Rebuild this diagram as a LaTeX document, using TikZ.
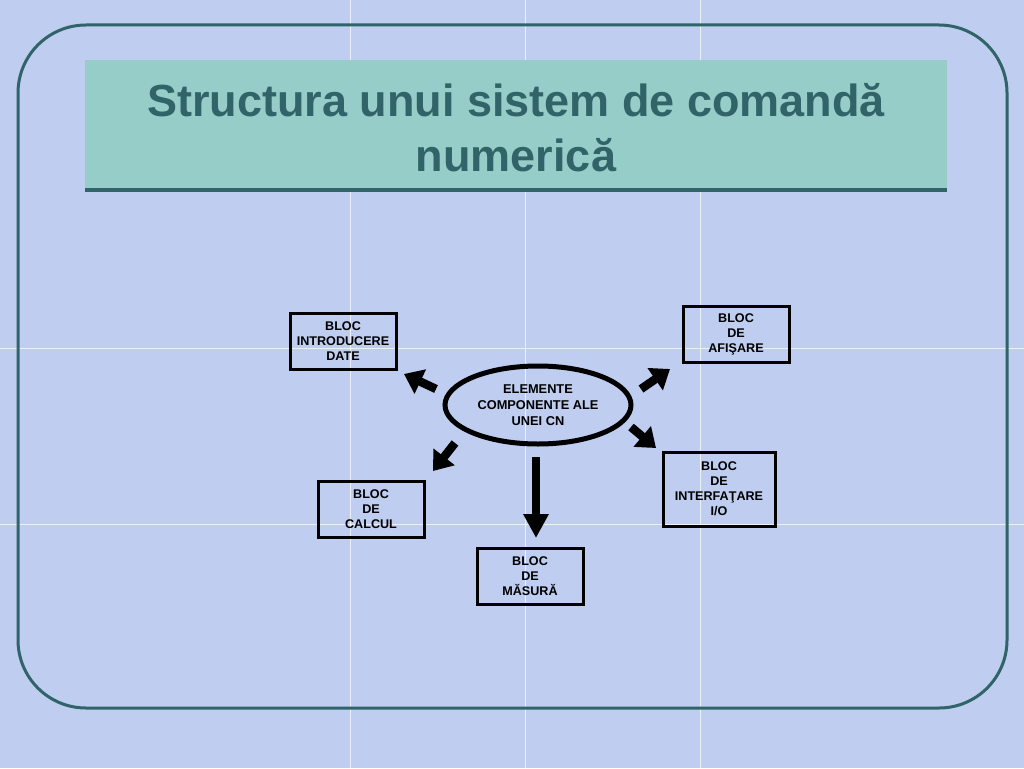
\documentclass[tikz,border=0pt]{standalone}
\usepackage{fontspec}
\setmainfont{Liberation Sans}
\usetikzlibrary{arrows.meta,shapes.geometric}
\definecolor{bgc}{RGB}{190,205,240}
\definecolor{teal}{RGB}{48,100,104}
\definecolor{band}{RGB}{150,205,200}
\tikzset{
  blk/.style={draw=black, line width=3pt, minimum width=106pt, minimum height=56pt, align=center, inner sep=2pt,
    font=\fontsize{12.6}{15}\selectfont\bfseries},
  bigarrow/.style={line width=8.5pt, -{Triangle[length=18pt,width=26pt]}},
  gridl/.style={white, line width=1pt, opacity=0.7}
}
\begin{document}
\begin{tikzpicture}[x=1pt,y=-1pt]
\useasboundingbox (0,0) rectangle (1024,768);
\fill[bgc] (0,0) rectangle (1024,768);
\foreach \gx in {350,525,700} \draw[gridl] (\gx,0) -- (\gx,768);
\foreach \gy in {348,524} \draw[gridl] (0,\gy) -- (1024,\gy);
% frame
\draw[teal, line width=3pt, rounded corners=68pt] (18,25) rectangle (1007,708);
% title band
\fill[band] (85,60) rectangle (947,190);
\draw[teal, line width=4pt] (85,190) -- (947,190);
\node[text=teal, font=\fontsize{45}{55}\selectfont\bfseries, align=center] (title) at (516,128)
  {Structura unui sistem de comandă\\numerică};
% nodes
\node[draw=black, line width=5pt, ellipse, minimum width=186pt, minimum height=78pt, inner sep=0pt, align=center,
  font=\fontsize{12.8}{16}\selectfont\bfseries] (ell) at (538,405) {ELEMENTE\\COMPONENTE ALE\\UNEI CN};
\node[blk] (intro) at (343,341) {BLOC\\INTRODUCERE\\DATE};
\node[blk] (afis) at (736,334) {BLOC\\DE\\AFIŞARE};
\node[blk, minimum width=112pt, minimum height=74pt] (interf) at (719,489) {BLOC\\DE\\INTERFAŢARE\\I/O};
\node[blk] (calc) at (371,509) {BLOC\\DE\\CALCUL};
\node[blk] (mas) at (530,576) {BLOC\\DE\\MĂSURĂ};
% arrow coordinates
\coordinate (a1s) at (436,389); \coordinate (a1e) at (404,374);
\coordinate (a2s) at (641,389); \coordinate (a2e) at (670,369);
\coordinate (a3s) at (631,427); \coordinate (a3e) at (656,448);
\coordinate (a4s) at (455,443); \coordinate (a4e) at (433,471);
\coordinate (a5s) at (536,457); \coordinate (a5e) at (536,538);
\draw[bigarrow] (a1s) -- (a1e);
\draw[bigarrow] (a2s) -- (a2e);
\draw[bigarrow] (a3s) -- (a3e);
\draw[bigarrow] (a4s) -- (a4e);
\draw[line width=8pt, -{Triangle[length=24pt,width=24pt]}] (a5s) -- (a5e);
\end{tikzpicture}
\end{document}
